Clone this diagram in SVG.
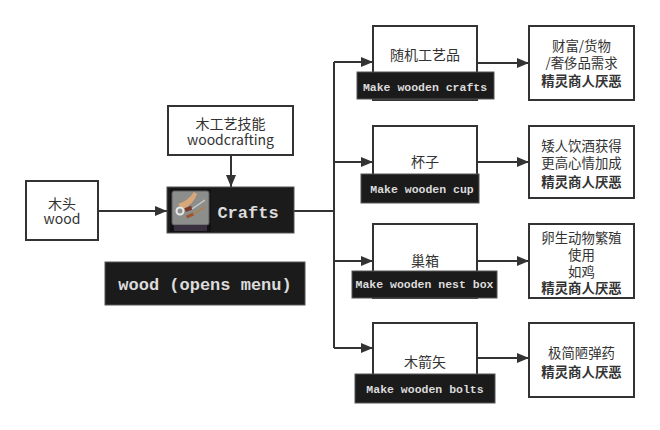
<svg xmlns="http://www.w3.org/2000/svg" width="660" height="430" viewBox="0 0 660 430">
<style>
.box{fill:#fff;stroke:#333;stroke-width:2}
.dark{fill:#1b1b1b;stroke:#555;stroke-width:1}
.cn{font-family:"Noto Sans CJK SC","Noto Sans",sans-serif;font-size:14px;fill:#333;text-anchor:middle}
.r{font-size:13.4px}
.b{font-weight:bold}
.mono{font-family:"Liberation Mono","DejaVu Sans Mono",monospace;font-weight:bold;fill:#dcdcdc;text-anchor:middle}
.ln{fill:none;stroke:#333;stroke-width:2}
</style>
<defs>
<marker id="ah" viewBox="0 0 12 10" refX="12" refY="5" markerWidth="12" markerHeight="10" markerUnits="userSpaceOnUse" orient="auto">
<path d="M0,0 L12,5 L0,10 z" fill="#333"/>
</marker>
</defs>
<rect width="660" height="430" fill="#fff"/>

<g id="connectors">
<line class="ln" x1="98" y1="211" x2="167" y2="211" marker-end="url(#ah)"/>
<line class="ln" x1="231" y1="155" x2="231" y2="187" marker-end="url(#ah)"/>
<polyline class="ln" points="294,211 334,211"/>
<polyline class="ln" points="334,62 334,348"/>
<line class="ln" x1="334" y1="62" x2="373" y2="62" marker-end="url(#ah)"/>
<line class="ln" x1="334" y1="162" x2="373" y2="162" marker-end="url(#ah)"/>
<line class="ln" x1="334" y1="261" x2="373" y2="261" marker-end="url(#ah)"/>
<line class="ln" x1="334" y1="348" x2="373" y2="348" marker-end="url(#ah)"/>
<line class="ln" x1="477" y1="63" x2="529" y2="63" marker-end="url(#ah)"/>
<line class="ln" x1="477" y1="162" x2="529" y2="162" marker-end="url(#ah)"/>
<line class="ln" x1="477" y1="261" x2="529" y2="261" marker-end="url(#ah)"/>
<line class="ln" x1="477" y1="358" x2="529" y2="358" marker-end="url(#ah)"/>
</g>

<g id="wood">
<rect class="box" x="26" y="181" width="72" height="59"/>
<text class="cn" x="62" y="209">木头</text>
<text class="cn" x="62" y="224">wood</text>
</g>

<g id="skill">
<rect class="box" x="168" y="106" width="125" height="49"/>
<text class="cn" x="230.5" y="129">木工艺技能</text>
<text class="cn" x="230.5" y="145">woodcrafting</text>
</g>

<g id="crafts">
<rect class="dark" x="167" y="187" width="127" height="46"/>
<rect x="170" y="189" width="41" height="43" fill="#121212"/>
<rect x="172" y="191" width="37" height="34" rx="2" fill="#8c8e8c" stroke="#5a5a5a" stroke-width="1"/>
<rect x="174" y="225" width="33" height="6" fill="#3b3040"/>
<path d="M178,204 Q188,201 194,192 L197,194 Q193,205 183,209 Z" fill="#d8a878"/>
<circle cx="180" cy="211" r="3.5" fill="none" stroke="#e8e8e8" stroke-width="2"/>
<rect x="185" y="207" width="7" height="4" fill="#7a3a2a" transform="rotate(-20 188 209)"/>
<rect x="186" y="214" width="8" height="3" fill="#a0522d" transform="rotate(-25 190 215)"/>
<line x1="192" y1="209" x2="205" y2="200" stroke="#ccc" stroke-width="1.5"/>
<line x1="193" y1="214" x2="205" y2="207" stroke="#b08050" stroke-width="1.5"/>
<text class="mono" x="248" y="218" style="font-size:17px">Crafts</text>
</g>

<g id="opens-menu">
<rect class="dark" x="105" y="262" width="200" height="43"/>
<text class="mono" x="205" y="290" style="font-size:17px">wood (opens menu)</text>
</g>

<g id="n-crafts">
<rect class="box" x="373" y="26" width="104" height="74"/>
<text class="cn" x="425" y="60">随机工艺品</text>
<rect class="dark" x="357" y="72" width="137" height="27"/>
<text class="mono" x="425" y="91" style="font-size:11.5px">Make wooden crafts</text>
</g>

<g id="n-cup">
<rect class="box" x="373" y="126" width="104" height="74"/>
<text class="cn" x="425" y="167">杯子</text>
<rect class="dark" x="361" y="174" width="118" height="29"/>
<text class="mono" x="422" y="193" style="font-size:11.5px">Make wooden cup</text>
</g>

<g id="n-nestbox">
<rect class="box" x="373" y="224" width="104" height="74"/>
<text class="cn" x="425" y="266">巢箱</text>
<rect class="dark" x="352" y="271" width="145" height="27"/>
<text class="mono" x="424.5" y="288" style="font-size:11.5px">Make wooden nest box</text>
</g>

<g id="n-bolts">
<rect class="box" x="373" y="323" width="104" height="74"/>
<text class="cn" x="425" y="367">木箭矢</text>
<rect class="dark" x="355" y="374" width="140" height="29"/>
<text class="mono" x="425" y="393" style="font-size:11.5px">Make wooden bolts</text>
</g>

<g id="r-crafts">
<rect class="box" x="529" y="26" width="105" height="74"/>
<text class="cn r" x="581.5" y="51">财富/货物</text>
<text class="cn r" x="581.5" y="68">/奢侈品需求</text>
<text class="cn r b" x="581.5" y="86">精灵商人厌恶</text>
</g>

<g id="r-cup">
<rect class="box" x="529" y="126" width="105" height="72"/>
<text class="cn r" x="581.5" y="151">矮人饮酒获得</text>
<text class="cn r" x="581.5" y="168">更高心情加成</text>
<text class="cn r b" x="581.5" y="187">精灵商人厌恶</text>
</g>

<g id="r-nestbox">
<rect class="box" x="529" y="224" width="105" height="74"/>
<text class="cn r" x="581.5" y="243">卵生动物繁殖</text>
<text class="cn r" x="581.5" y="260">使用</text>
<text class="cn r" x="581.5" y="277">如鸡</text>
<text class="cn r b" x="581.5" y="293">精灵商人厌恶</text>
</g>

<g id="r-bolts">
<rect class="box" x="529" y="323" width="105" height="74"/>
<text class="cn r" x="581.5" y="358">极简陋弹药</text>
<text class="cn r b" x="581.5" y="377">精灵商人厌恶</text>
</g>
</svg>
